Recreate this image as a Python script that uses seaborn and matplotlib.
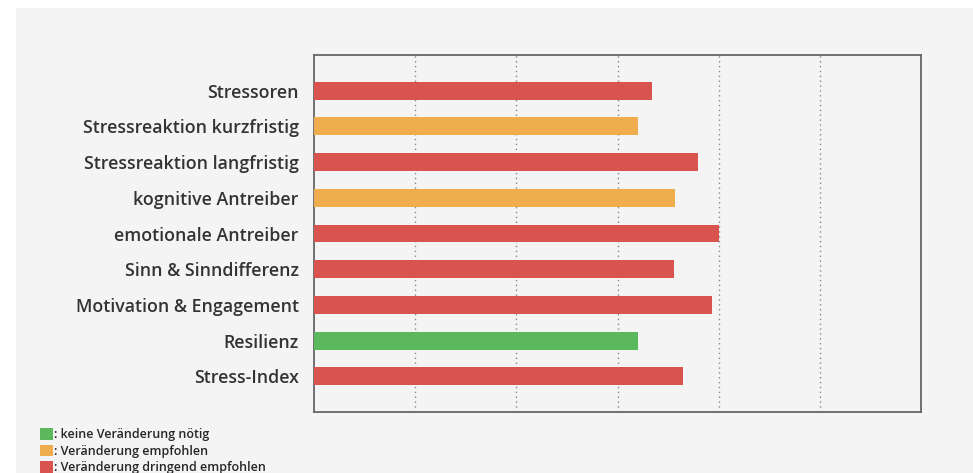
import matplotlib
matplotlib.use('Agg')
import matplotlib.pyplot as plt
import seaborn as sns
from matplotlib.patches import Patch, Rectangle

categories = ['Stressoren', 'Stressreaktion kurzfristig', 'Stressreaktion langfristig',
              'kognitive Antreiber', 'emotionale Antreiber', 'Sinn & Sinndifferenz',
              'Motivation & Engagement', 'Resilienz', 'Stress-Index']
scores = [3.34, 3.20, 3.80, 3.57, 4.00, 3.56, 3.93, 3.20, 3.65]
status = ['red', 'orange', 'red', 'orange', 'red', 'red', 'red', 'green', 'red']
legend_labels = [': keine Veränderung nötig', ': Veränderung empfohlen',
                 ': Veränderung dringend empfohlen']

colors = {'green': '#5cb85c', 'orange': '#f0ad4e', 'red': '#d9534f'}

sns.set_style('white')
plt.rcParams['font.family'] = ['Open Sans', 'DejaVu Sans']

fig = plt.figure(figsize=(9.73, 4.73), dpi=100, facecolor='white')
fig.add_artist(Rectangle((16 / 973, 0), 1, 1 - 8 / 473, transform=fig.transFigure,
                         facecolor='#f4f4f4', edgecolor='none', zorder=-10))
ax = fig.add_axes([314 / 973, 1 - 412 / 473, (921 - 314) / 973, (412 - 55) / 473])
ax.set_facecolor('#f4f4f4')

sns.barplot(x=scores, y=categories, hue=categories,
            palette=[colors[s] for s in status], legend=False,
            width=0.5, saturation=1, linewidth=0, ax=ax, zorder=3)

ax.set_xlim(0, 6)
ax.set_ylim(9, -1)
for gx in range(1, 6):
    ax.axvline(gx, color='#888888', linestyle=(0, (1, 2.5)), linewidth=1, zorder=1)
ax.set_xticks([])
ax.set_xlabel('')
ax.set_ylabel('')
ax.tick_params(axis='y', length=0, pad=11)
for lab in ax.get_yticklabels():
    lab.set_fontsize(12.8)
    lab.set_fontweight('semibold')
    lab.set_color('#333333')
for sp in ax.spines.values():
    sp.set_visible(True)
    sp.set_color('#666666')
    sp.set_linewidth(1.3)

handles = [Patch(facecolor=colors[c], edgecolor='none') for c in ['green', 'orange', 'red']]
fig.legend(handles, legend_labels, loc='upper left', bbox_to_anchor=(34 / 973, 1 - 422 / 473),
           frameon=False, handlelength=1.0, handleheight=1.0,
           handletextpad=0.1, labelspacing=0.28, borderpad=0, prop={'size': 9, 'weight': 'semibold'})

fig.savefig('out.png', dpi=100, facecolor='white')
